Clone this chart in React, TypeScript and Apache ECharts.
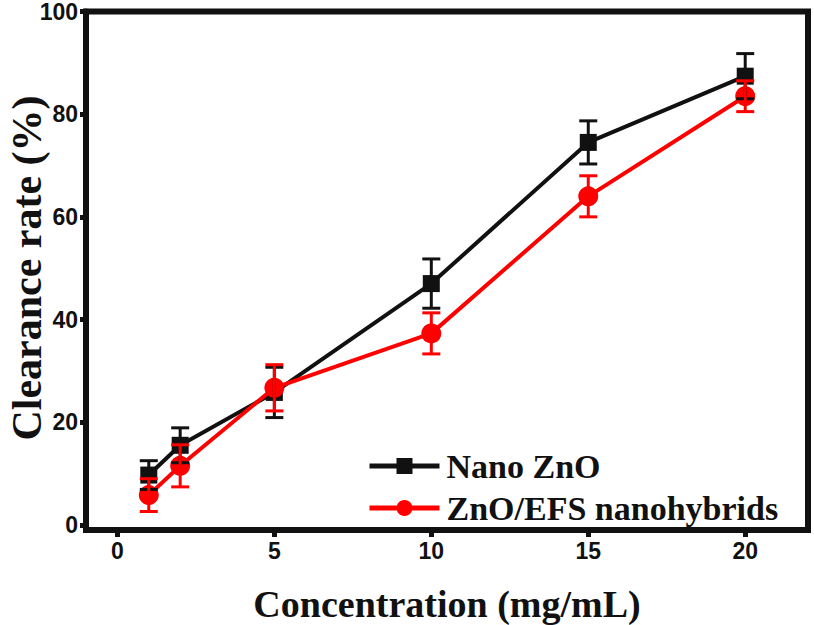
import React, { useEffect, useRef } from "react";
import * as echarts from "echarts";

const concentrations = [1, 2, 5, 10, 15, 20];
const nanoZnO = [9.7, 15.5, 25.8, 47.0, 74.5, 87.4];
const nanoZnOErr = [2.8, 3.4, 4.9, 4.8, 4.2, 4.4];
const hybrid = [5.8, 11.5, 26.7, 37.3, 64.0, 83.5];
const hybridErr = [3.2, 4.1, 4.5, 4.0, 4.0, 3.0];
const xTicks = [0, 5, 10, 15, 20];
const yTicks = [0, 20, 40, 60, 80, 100];
const seriesNames = ["Nano ZnO", "ZnO/EFS nanohybrids"];

const BLACK = "#111111";
const RED = "#ff0000";

function errorSeries(values: number[], errs: number[], color: string) {
  return {
    type: "custom",
    z: 5,
    silent: true,
    data: concentrations.map((x, i) => [x, values[i] - errs[i], values[i] + errs[i]]),
    renderItem: (params: any, api: any) => {
      const x = api.value(0);
      const lo = api.coord([x, api.value(1)]);
      const hi = api.coord([x, api.value(2)]);
      const cap = 9;
      const st = { stroke: color, lineWidth: 3 };
      return {
        type: "group",
        children: [
          { type: "line", shape: { x1: lo[0], y1: lo[1], x2: hi[0], y2: hi[1] }, style: st },
          { type: "line", shape: { x1: lo[0] - cap, y1: lo[1], x2: lo[0] + cap, y2: lo[1] }, style: st },
          { type: "line", shape: { x1: hi[0] - cap, y1: hi[1], x2: hi[0] + cap, y2: hi[1] }, style: st },
        ],
      };
    },
  };
}

export default function App() {
  const ref = useRef<HTMLDivElement>(null);
  useEffect(() => {
    if (!ref.current) return;
    const chart = echarts.init(ref.current, undefined, { renderer: "svg" });
    const tickFont = {
      fontFamily: "Liberation Sans",
      fontWeight: "bold",
      fontSize: 23,
      color: BLACK,
    };
    chart.setOption({
      animation: false,
      backgroundColor: "#ffffff",
      grid: {
        left: 86,
        right: 6,
        top: 11,
        bottom: 95,
        show: true,
        borderColor: BLACK,
        borderWidth: 6,
      },
      xAxis: {
        type: "value",
        min: -1,
        max: 22,
        axisLine: { show: true, onZero: false, lineStyle: { color: BLACK, width: 6 } },
        axisTick: { show: true, customValues: xTicks, length: 7, lineStyle: { color: BLACK, width: 5 } },
        axisLabel: { customValues: xTicks, margin: 9, ...tickFont },
        splitLine: { show: false },
      },
      yAxis: {
        type: "value",
        min: -1,
        max: 100,
        axisLine: { show: true, onZero: false, lineStyle: { color: BLACK, width: 6 } },
        axisTick: { show: true, customValues: yTicks, length: 6, lineStyle: { color: BLACK, width: 5 } },
        axisLabel: { customValues: yTicks, margin: 8, ...tickFont },
        splitLine: { show: false },
      },
      legend: {
        show: true,
        data: seriesNames,
        orient: "vertical",
        left: 362,
        top: 442,
        itemWidth: 70,
        itemHeight: 20,
        itemGap: 4,
        lineStyle: { width: 5 },
        textStyle: {
          fontFamily: "Liberation Serif",
          fontWeight: "bold",
          fontSize: 34,
          lineHeight: 38,
          color: BLACK,
          padding: [0, 0, 0, 2],
        },
      },
      series: [
        {
          name: seriesNames[0],
          type: "line",
          z: 3,
          data: concentrations.map((x, i) => [x, nanoZnO[i]]),
          symbol: "rect",
          symbolSize: 17,
          lineStyle: { color: BLACK, width: 4 },
          itemStyle: { color: BLACK },
        },
        {
          name: seriesNames[1],
          type: "line",
          z: 4,
          data: concentrations.map((x, i) => [x, hybrid[i]]),
          symbol: "circle",
          symbolSize: 20,
          lineStyle: { color: RED, width: 4 },
          itemStyle: { color: RED },
        },
        errorSeries(nanoZnO, nanoZnOErr, BLACK),
        errorSeries(hybrid, hybridErr, RED),
      ],
      graphic: [
        {
          type: "text",
          x: 447,
          y: 604,
          style: {
            text: "Concentration (mg/mL)",
            fontFamily: "Liberation Serif",
            fontWeight: "bold",
            fontSize: 38,
            fill: BLACK,
            align: "center",
            verticalAlign: "middle",
          },
        },
        {
          type: "text",
          x: 27,
          y: 268,
          rotation: Math.PI / 2,
          style: {
            text: "Clearance rate (%)",
            fontFamily: "Liberation Serif",
            fontWeight: "bold",
            fontSize: 42,
            fill: BLACK,
            align: "center",
            verticalAlign: "middle",
          },
        },
      ],
    });
    return () => chart.dispose();
  }, []);
  return (
    <div
      ref={ref}
      style={{ position: "fixed", left: 0, top: 0, width: 814, height: 625 }}
    />
  );
}
